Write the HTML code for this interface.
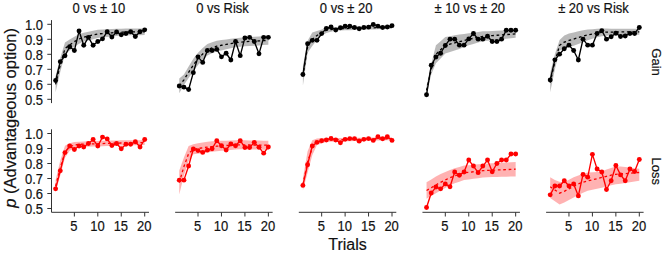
<!DOCTYPE html><html><head><meta charset="utf-8"><style>html,body{margin:0;padding:0;background:#fff;}
svg{display:block;}
text{font-family:"Liberation Sans",sans-serif;fill:#111;stroke:#111;stroke-width:0.18px;}
.t{font-size:13px;}
.ti{font-size:13px;}
.big{font-size:16px;}
.side{font-size:13px;}
</style></head><body><svg width="665" height="254" viewBox="0 0 665 254">
<rect width="665" height="254" fill="#fff"/>
<polygon points="55.60,76.35 60.29,57.75 64.98,42.60 69.67,39.40 74.36,36.64 79.05,34.31 83.74,32.66 88.43,31.67 93.12,30.69 97.81,29.70 102.50,29.49 107.19,29.28 111.88,29.07 116.57,28.86 121.26,28.65 125.95,28.62 130.64,28.59 135.33,28.56 140.02,28.53 144.71,28.50 144.71,35.10 140.02,35.19 135.33,35.28 130.64,35.37 125.95,35.46 121.26,35.55 116.57,36.06 111.88,36.57 107.19,37.08 102.50,37.59 97.81,38.10 93.12,39.26 88.43,40.41 83.74,41.57 79.05,43.69 74.36,46.76 69.67,50.40 64.98,54.60 60.29,71.85 55.60,92.25" fill="rgba(0,0,0,0.27)" stroke="none"/>
<polyline points="55.60,84.30 60.29,64.80 64.98,48.60 69.67,44.90 74.36,41.70 79.05,39.00 83.74,37.11 88.43,36.04 93.12,34.97 97.81,33.90 102.50,33.54 107.19,33.18 111.88,32.82 116.57,32.46 121.26,32.10 125.95,32.04 130.64,31.98 135.33,31.92 140.02,31.86 144.71,31.80" fill="none" stroke="#000" stroke-width="1.3" stroke-dasharray="2.7,2.7"/>
<polyline points="55.60,80.55 60.29,61.65 64.98,55.80 69.67,46.80 74.36,50.55 79.05,31.05 83.74,45.30 88.43,37.35 93.12,45.30 97.81,41.55 102.50,38.85 107.19,31.80 111.88,37.05 116.57,32.02 121.26,34.80 125.95,33.52 130.64,31.80 135.33,36.52 140.02,31.80 144.71,29.85" fill="none" stroke="#000" stroke-width="1.35" stroke-linejoin="round"/>
<circle cx="55.60" cy="80.55" r="2.45" fill="#000"/>
<circle cx="60.29" cy="61.65" r="2.45" fill="#000"/>
<circle cx="64.98" cy="55.80" r="2.45" fill="#000"/>
<circle cx="69.67" cy="46.80" r="2.45" fill="#000"/>
<circle cx="74.36" cy="50.55" r="2.45" fill="#000"/>
<circle cx="79.05" cy="31.05" r="2.45" fill="#000"/>
<circle cx="83.74" cy="45.30" r="2.45" fill="#000"/>
<circle cx="88.43" cy="37.35" r="2.45" fill="#000"/>
<circle cx="93.12" cy="45.30" r="2.45" fill="#000"/>
<circle cx="97.81" cy="41.55" r="2.45" fill="#000"/>
<circle cx="102.50" cy="38.85" r="2.45" fill="#000"/>
<circle cx="107.19" cy="31.80" r="2.45" fill="#000"/>
<circle cx="111.88" cy="37.05" r="2.45" fill="#000"/>
<circle cx="116.57" cy="32.02" r="2.45" fill="#000"/>
<circle cx="121.26" cy="34.80" r="2.45" fill="#000"/>
<circle cx="125.95" cy="33.52" r="2.45" fill="#000"/>
<circle cx="130.64" cy="31.80" r="2.45" fill="#000"/>
<circle cx="135.33" cy="36.52" r="2.45" fill="#000"/>
<circle cx="140.02" cy="31.80" r="2.45" fill="#000"/>
<circle cx="144.71" cy="29.85" r="2.45" fill="#000"/>
<polygon points="179.25,78.60 183.94,74.55 188.63,66.53 193.32,58.75 198.01,52.64 202.70,48.02 207.39,44.00 212.08,42.19 216.77,40.82 221.46,40.11 226.15,39.47 230.84,38.86 235.53,38.25 240.22,37.72 244.91,37.20 249.60,36.93 254.29,36.66 258.98,36.39 263.67,36.12 268.36,35.85 268.36,44.85 263.67,45.12 258.98,45.39 254.29,45.66 249.60,45.93 244.91,46.20 240.22,46.72 235.53,47.25 230.84,48.31 226.15,49.36 221.46,50.42 216.77,51.48 212.08,53.29 207.39,55.60 202.70,60.08 198.01,64.96 193.32,71.35 188.63,78.08 183.94,85.05 179.25,93.30" fill="rgba(0,0,0,0.27)" stroke="none"/>
<polyline points="179.25,85.95 183.94,79.80 188.63,72.30 193.32,65.05 198.01,58.80 202.70,54.05 207.39,49.80 212.08,47.74 216.77,46.15 221.46,45.26 226.15,44.42 230.84,43.58 235.53,42.75 240.22,42.22 244.91,41.70 249.60,41.43 254.29,41.16 258.98,40.89 263.67,40.62 268.36,40.35" fill="none" stroke="#000" stroke-width="1.3" stroke-dasharray="2.7,2.7"/>
<polyline points="179.25,85.95 183.94,87.15 188.63,89.55 193.32,72.67 198.01,56.85 202.70,62.40 207.39,50.55 212.08,50.55 216.77,49.35 221.46,56.85 226.15,53.25 230.84,60.00 235.53,41.55 240.22,55.65 244.91,37.95 249.60,37.35 254.29,41.55 258.98,53.85 263.67,37.35 268.36,37.35" fill="none" stroke="#000" stroke-width="1.35" stroke-linejoin="round"/>
<circle cx="179.25" cy="85.95" r="2.45" fill="#000"/>
<circle cx="183.94" cy="87.15" r="2.45" fill="#000"/>
<circle cx="188.63" cy="89.55" r="2.45" fill="#000"/>
<circle cx="193.32" cy="72.67" r="2.45" fill="#000"/>
<circle cx="198.01" cy="56.85" r="2.45" fill="#000"/>
<circle cx="202.70" cy="62.40" r="2.45" fill="#000"/>
<circle cx="207.39" cy="50.55" r="2.45" fill="#000"/>
<circle cx="212.08" cy="50.55" r="2.45" fill="#000"/>
<circle cx="216.77" cy="49.35" r="2.45" fill="#000"/>
<circle cx="221.46" cy="56.85" r="2.45" fill="#000"/>
<circle cx="226.15" cy="53.25" r="2.45" fill="#000"/>
<circle cx="230.84" cy="60.00" r="2.45" fill="#000"/>
<circle cx="235.53" cy="41.55" r="2.45" fill="#000"/>
<circle cx="240.22" cy="55.65" r="2.45" fill="#000"/>
<circle cx="244.91" cy="37.95" r="2.45" fill="#000"/>
<circle cx="249.60" cy="37.35" r="2.45" fill="#000"/>
<circle cx="254.29" cy="41.55" r="2.45" fill="#000"/>
<circle cx="258.98" cy="53.85" r="2.45" fill="#000"/>
<circle cx="263.67" cy="37.35" r="2.45" fill="#000"/>
<circle cx="268.36" cy="37.35" r="2.45" fill="#000"/>
<polygon points="302.90,66.30 307.59,40.80 312.28,32.55 316.97,31.05 321.66,29.55 326.35,27.70 331.04,27.35 335.73,27.00 340.42,26.90 345.11,26.80 349.80,26.70 354.49,26.60 359.18,26.50 363.87,26.40 368.56,26.30 373.25,26.20 377.94,26.10 382.63,26.00 387.32,25.90 392.01,25.80 392.01,28.80 387.32,28.95 382.63,29.10 377.94,29.25 373.25,29.40 368.56,29.55 363.87,29.70 359.18,29.85 354.49,30.00 349.80,30.15 345.11,30.30 340.42,30.45 335.73,30.60 331.04,31.75 326.35,32.90 321.66,35.55 316.97,40.05 312.28,46.05 307.59,52.80 302.90,85.80" fill="rgba(0,0,0,0.27)" stroke="none"/>
<polyline points="302.90,76.05 307.59,46.80 312.28,39.30 316.97,35.55 321.66,32.55 326.35,30.30 331.04,29.55 335.73,28.80 340.42,28.68 345.11,28.55 349.80,28.43 354.49,28.30 359.18,28.18 363.87,28.05 368.56,27.93 373.25,27.80 377.94,27.67 382.63,27.55 387.32,27.43 392.01,27.30" fill="none" stroke="#000" stroke-width="1.3" stroke-dasharray="2.7,2.7"/>
<polyline points="302.90,74.55 307.59,43.80 312.28,40.35 316.97,40.35 321.66,33.60 326.35,28.35 331.04,27.00 335.73,30.00 340.42,27.75 345.11,26.25 349.80,26.25 354.49,27.45 359.18,28.80 363.87,27.45 368.56,27.15 373.25,24.45 377.94,26.10 382.63,27.45 387.32,27.00 392.01,25.65" fill="none" stroke="#000" stroke-width="1.35" stroke-linejoin="round"/>
<circle cx="302.90" cy="74.55" r="2.45" fill="#000"/>
<circle cx="307.59" cy="43.80" r="2.45" fill="#000"/>
<circle cx="312.28" cy="40.35" r="2.45" fill="#000"/>
<circle cx="316.97" cy="40.35" r="2.45" fill="#000"/>
<circle cx="321.66" cy="33.60" r="2.45" fill="#000"/>
<circle cx="326.35" cy="28.35" r="2.45" fill="#000"/>
<circle cx="331.04" cy="27.00" r="2.45" fill="#000"/>
<circle cx="335.73" cy="30.00" r="2.45" fill="#000"/>
<circle cx="340.42" cy="27.75" r="2.45" fill="#000"/>
<circle cx="345.11" cy="26.25" r="2.45" fill="#000"/>
<circle cx="349.80" cy="26.25" r="2.45" fill="#000"/>
<circle cx="354.49" cy="27.45" r="2.45" fill="#000"/>
<circle cx="359.18" cy="28.80" r="2.45" fill="#000"/>
<circle cx="363.87" cy="27.45" r="2.45" fill="#000"/>
<circle cx="368.56" cy="27.15" r="2.45" fill="#000"/>
<circle cx="373.25" cy="24.45" r="2.45" fill="#000"/>
<circle cx="377.94" cy="26.10" r="2.45" fill="#000"/>
<circle cx="382.63" cy="27.45" r="2.45" fill="#000"/>
<circle cx="387.32" cy="27.00" r="2.45" fill="#000"/>
<circle cx="392.01" cy="25.65" r="2.45" fill="#000"/>
<polygon points="426.55,85.80 431.24,64.05 435.93,45.30 440.62,41.17 445.31,37.05 450.00,36.15 454.69,35.25 459.38,34.50 464.07,33.90 468.76,33.30 473.45,32.65 478.14,32.00 482.83,31.35 487.52,31.16 492.21,30.96 496.90,30.77 501.59,30.58 506.28,30.39 510.97,30.19 515.66,30.00 515.66,37.80 510.97,38.29 506.28,38.79 501.59,39.28 496.90,39.77 492.21,40.26 487.52,40.76 482.83,41.25 478.14,42.60 473.45,43.95 468.76,45.30 464.07,47.10 459.38,48.90 454.69,50.55 450.00,52.05 445.31,53.55 440.62,58.42 435.93,63.30 431.24,74.55 426.55,94.80" fill="rgba(0,0,0,0.27)" stroke="none"/>
<polyline points="426.55,90.30 431.24,69.30 435.93,54.30 440.62,49.80 445.31,45.30 450.00,44.10 454.69,42.90 459.38,41.70 464.07,40.50 468.76,39.30 473.45,38.30 478.14,37.30 482.83,36.30 487.52,35.96 492.21,35.61 496.90,35.27 501.59,34.93 506.28,34.59 510.97,34.24 515.66,33.90" fill="none" stroke="#000" stroke-width="1.3" stroke-dasharray="2.7,2.7"/>
<polyline points="426.55,94.80 431.24,65.25 435.93,57.00 440.62,53.25 445.31,45.45 450.00,39.15 454.69,39.15 459.38,45.15 464.07,45.15 468.76,38.92 473.45,33.45 478.14,39.15 482.83,39.15 487.52,36.30 492.21,41.55 496.90,41.55 501.59,39.15 506.28,30.30 510.97,30.30 515.66,30.30" fill="none" stroke="#000" stroke-width="1.35" stroke-linejoin="round"/>
<circle cx="426.55" cy="94.80" r="2.45" fill="#000"/>
<circle cx="431.24" cy="65.25" r="2.45" fill="#000"/>
<circle cx="435.93" cy="57.00" r="2.45" fill="#000"/>
<circle cx="440.62" cy="53.25" r="2.45" fill="#000"/>
<circle cx="445.31" cy="45.45" r="2.45" fill="#000"/>
<circle cx="450.00" cy="39.15" r="2.45" fill="#000"/>
<circle cx="454.69" cy="39.15" r="2.45" fill="#000"/>
<circle cx="459.38" cy="45.15" r="2.45" fill="#000"/>
<circle cx="464.07" cy="45.15" r="2.45" fill="#000"/>
<circle cx="468.76" cy="38.92" r="2.45" fill="#000"/>
<circle cx="473.45" cy="33.45" r="2.45" fill="#000"/>
<circle cx="478.14" cy="39.15" r="2.45" fill="#000"/>
<circle cx="482.83" cy="39.15" r="2.45" fill="#000"/>
<circle cx="487.52" cy="36.30" r="2.45" fill="#000"/>
<circle cx="492.21" cy="41.55" r="2.45" fill="#000"/>
<circle cx="496.90" cy="41.55" r="2.45" fill="#000"/>
<circle cx="501.59" cy="39.15" r="2.45" fill="#000"/>
<circle cx="506.28" cy="30.30" r="2.45" fill="#000"/>
<circle cx="510.97" cy="30.30" r="2.45" fill="#000"/>
<circle cx="515.66" cy="30.30" r="2.45" fill="#000"/>
<polygon points="550.20,72.75 554.89,54.30 559.58,40.05 564.27,35.42 568.96,33.57 573.65,32.40 578.34,31.20 583.03,30.23 587.72,29.56 592.41,29.19 597.10,28.83 601.79,28.62 606.48,28.57 611.17,28.70 615.86,28.87 620.55,28.86 625.24,28.84 629.93,28.83 634.62,28.81 639.31,28.80 639.31,34.80 634.62,34.87 629.93,34.95 625.24,35.02 620.55,35.10 615.86,35.17 611.17,35.43 606.48,35.73 601.79,36.21 597.10,37.23 592.41,38.79 587.72,40.36 583.03,42.23 578.34,44.03 573.65,45.68 568.96,47.31 564.27,48.93 559.58,50.55 554.89,69.30 550.20,92.25" fill="rgba(0,0,0,0.27)" stroke="none"/>
<polyline points="550.20,82.50 554.89,61.80 559.58,45.30 564.27,42.17 568.96,40.44 573.65,39.04 578.34,37.61 583.03,36.23 587.72,34.96 592.41,33.99 597.10,33.03 601.79,32.42 606.48,32.15 611.17,32.06 615.86,32.02 620.55,31.98 625.24,31.93 629.93,31.89 634.62,31.84 639.31,31.80" fill="none" stroke="#000" stroke-width="1.3" stroke-dasharray="2.7,2.7"/>
<polyline points="550.20,79.95 554.89,59.85 559.58,54.15 564.27,48.75 568.96,45.15 573.65,50.55 578.34,60.00 583.03,39.15 587.72,45.15 592.41,45.15 597.10,33.45 601.79,30.60 606.48,39.15 611.17,36.75 615.86,33.30 620.55,36.45 625.24,36.00 629.93,33.45 634.62,33.45 639.31,27.45" fill="none" stroke="#000" stroke-width="1.35" stroke-linejoin="round"/>
<circle cx="550.20" cy="79.95" r="2.45" fill="#000"/>
<circle cx="554.89" cy="59.85" r="2.45" fill="#000"/>
<circle cx="559.58" cy="54.15" r="2.45" fill="#000"/>
<circle cx="564.27" cy="48.75" r="2.45" fill="#000"/>
<circle cx="568.96" cy="45.15" r="2.45" fill="#000"/>
<circle cx="573.65" cy="50.55" r="2.45" fill="#000"/>
<circle cx="578.34" cy="60.00" r="2.45" fill="#000"/>
<circle cx="583.03" cy="39.15" r="2.45" fill="#000"/>
<circle cx="587.72" cy="45.15" r="2.45" fill="#000"/>
<circle cx="592.41" cy="45.15" r="2.45" fill="#000"/>
<circle cx="597.10" cy="33.45" r="2.45" fill="#000"/>
<circle cx="601.79" cy="30.60" r="2.45" fill="#000"/>
<circle cx="606.48" cy="39.15" r="2.45" fill="#000"/>
<circle cx="611.17" cy="36.75" r="2.45" fill="#000"/>
<circle cx="615.86" cy="33.30" r="2.45" fill="#000"/>
<circle cx="620.55" cy="36.45" r="2.45" fill="#000"/>
<circle cx="625.24" cy="36.00" r="2.45" fill="#000"/>
<circle cx="629.93" cy="33.45" r="2.45" fill="#000"/>
<circle cx="634.62" cy="33.45" r="2.45" fill="#000"/>
<circle cx="639.31" cy="27.45" r="2.45" fill="#000"/>
<polygon points="55.60,180.00 60.29,160.50 64.98,145.80 69.67,143.25 74.36,142.06 79.05,141.63 83.74,141.47 88.43,141.31 93.12,141.15 97.81,140.99 102.50,140.83 107.19,140.67 111.88,140.51 116.57,140.39 121.26,140.34 125.95,140.29 130.64,140.24 135.33,140.20 140.02,140.15 144.71,140.10 144.71,144.90 140.02,145.04 135.33,145.19 130.64,145.33 125.95,145.47 121.26,145.61 116.57,145.76 111.88,145.91 107.19,146.07 102.50,146.23 97.81,146.39 93.12,146.55 88.43,146.71 83.74,146.87 79.05,147.03 74.36,147.89 69.67,150.75 64.98,157.80 60.29,175.50 55.60,192.00" fill="rgba(255,0,0,0.3)" stroke="none"/>
<polyline points="55.60,186.00 60.29,168.00 64.98,151.80 69.67,147.00 74.36,144.98 79.05,144.33 83.74,144.17 88.43,144.01 93.12,143.85 97.81,143.69 102.50,143.53 107.19,143.37 111.88,143.21 116.57,143.07 121.26,142.98 125.95,142.88 130.64,142.79 135.33,142.69 140.02,142.60 144.71,142.50" fill="none" stroke="#ff0000" stroke-width="1.3" stroke-dasharray="2.7,2.7"/>
<polyline points="55.60,188.85 60.29,170.85 64.98,152.62 69.67,145.95 74.36,149.55 79.05,145.95 83.74,147.00 88.43,143.55 93.12,139.50 97.81,145.95 102.50,137.10 107.19,138.90 111.88,145.57 116.57,143.55 121.26,148.80 125.95,144.30 130.64,144.30 135.33,141.75 140.02,147.00 144.71,139.50" fill="none" stroke="#ff0000" stroke-width="1.35" stroke-linejoin="round"/>
<circle cx="55.60" cy="188.85" r="2.45" fill="#ff0000"/>
<circle cx="60.29" cy="170.85" r="2.45" fill="#ff0000"/>
<circle cx="64.98" cy="152.62" r="2.45" fill="#ff0000"/>
<circle cx="69.67" cy="145.95" r="2.45" fill="#ff0000"/>
<circle cx="74.36" cy="149.55" r="2.45" fill="#ff0000"/>
<circle cx="79.05" cy="145.95" r="2.45" fill="#ff0000"/>
<circle cx="83.74" cy="147.00" r="2.45" fill="#ff0000"/>
<circle cx="88.43" cy="143.55" r="2.45" fill="#ff0000"/>
<circle cx="93.12" cy="139.50" r="2.45" fill="#ff0000"/>
<circle cx="97.81" cy="145.95" r="2.45" fill="#ff0000"/>
<circle cx="102.50" cy="137.10" r="2.45" fill="#ff0000"/>
<circle cx="107.19" cy="138.90" r="2.45" fill="#ff0000"/>
<circle cx="111.88" cy="145.57" r="2.45" fill="#ff0000"/>
<circle cx="116.57" cy="143.55" r="2.45" fill="#ff0000"/>
<circle cx="121.26" cy="148.80" r="2.45" fill="#ff0000"/>
<circle cx="125.95" cy="144.30" r="2.45" fill="#ff0000"/>
<circle cx="130.64" cy="144.30" r="2.45" fill="#ff0000"/>
<circle cx="135.33" cy="141.75" r="2.45" fill="#ff0000"/>
<circle cx="140.02" cy="147.00" r="2.45" fill="#ff0000"/>
<circle cx="144.71" cy="139.50" r="2.45" fill="#ff0000"/>
<polygon points="179.25,170.55 183.94,157.50 188.63,146.10 193.32,144.15 198.01,143.31 202.70,142.51 207.39,141.70 212.08,141.21 216.77,141.03 221.46,140.85 226.15,140.67 230.84,140.49 235.53,140.30 240.22,140.30 244.91,140.36 249.60,140.43 254.29,140.50 258.98,140.57 263.67,140.63 268.36,140.70 268.36,149.70 263.67,149.63 258.98,149.57 254.29,149.50 249.60,149.43 244.91,149.36 240.22,149.30 235.53,149.40 230.84,149.89 226.15,150.38 221.46,150.87 216.77,151.36 212.08,151.85 207.39,152.42 202.70,153.05 198.01,153.69 193.32,154.35 188.63,161.10 183.94,175.50 179.25,194.55" fill="rgba(255,0,0,0.3)" stroke="none"/>
<polyline points="179.25,182.55 183.94,166.50 188.63,153.60 193.32,149.25 198.01,148.50 202.70,147.78 207.39,147.06 212.08,146.53 216.77,146.20 221.46,145.86 226.15,145.52 230.84,145.19 235.53,144.85 240.22,144.80 244.91,144.86 249.60,144.93 254.29,145.00 258.98,145.07 263.67,145.13 268.36,145.20" fill="none" stroke="#ff0000" stroke-width="1.3" stroke-dasharray="2.7,2.7"/>
<polyline points="179.25,180.15 183.94,180.15 188.63,166.05 193.32,149.02 198.01,150.60 202.70,152.40 207.39,150.15 212.08,148.72 216.77,140.70 221.46,145.80 226.15,150.00 230.84,144.00 235.53,145.80 240.22,140.70 244.91,147.45 249.60,147.45 254.29,142.35 258.98,147.30 263.67,153.15 268.36,147.00" fill="none" stroke="#ff0000" stroke-width="1.35" stroke-linejoin="round"/>
<circle cx="179.25" cy="180.15" r="2.45" fill="#ff0000"/>
<circle cx="183.94" cy="180.15" r="2.45" fill="#ff0000"/>
<circle cx="188.63" cy="166.05" r="2.45" fill="#ff0000"/>
<circle cx="193.32" cy="149.02" r="2.45" fill="#ff0000"/>
<circle cx="198.01" cy="150.60" r="2.45" fill="#ff0000"/>
<circle cx="202.70" cy="152.40" r="2.45" fill="#ff0000"/>
<circle cx="207.39" cy="150.15" r="2.45" fill="#ff0000"/>
<circle cx="212.08" cy="148.72" r="2.45" fill="#ff0000"/>
<circle cx="216.77" cy="140.70" r="2.45" fill="#ff0000"/>
<circle cx="221.46" cy="145.80" r="2.45" fill="#ff0000"/>
<circle cx="226.15" cy="150.00" r="2.45" fill="#ff0000"/>
<circle cx="230.84" cy="144.00" r="2.45" fill="#ff0000"/>
<circle cx="235.53" cy="145.80" r="2.45" fill="#ff0000"/>
<circle cx="240.22" cy="140.70" r="2.45" fill="#ff0000"/>
<circle cx="244.91" cy="147.45" r="2.45" fill="#ff0000"/>
<circle cx="249.60" cy="147.45" r="2.45" fill="#ff0000"/>
<circle cx="254.29" cy="142.35" r="2.45" fill="#ff0000"/>
<circle cx="258.98" cy="147.30" r="2.45" fill="#ff0000"/>
<circle cx="263.67" cy="153.15" r="2.45" fill="#ff0000"/>
<circle cx="268.36" cy="147.00" r="2.45" fill="#ff0000"/>
<polygon points="302.90,178.50 307.59,151.20 312.28,140.25 316.97,138.45 321.66,138.30 326.35,138.15 331.04,138.09 335.73,138.02 340.42,137.96 345.11,137.89 349.80,137.83 354.49,137.76 359.18,137.70 363.87,137.64 368.56,137.57 373.25,137.51 377.94,137.44 382.63,137.38 387.32,137.31 392.01,137.25 392.01,140.25 387.32,140.36 382.63,140.46 377.94,140.57 373.25,140.68 368.56,140.79 363.87,140.89 359.18,141.00 354.49,141.11 349.80,141.21 345.11,141.32 340.42,141.43 335.73,141.54 331.04,141.64 326.35,141.75 321.66,143.40 316.97,145.05 312.28,155.25 307.59,172.80 302.90,190.50" fill="rgba(255,0,0,0.3)" stroke="none"/>
<polyline points="302.90,184.50 307.59,162.00 312.28,147.75 316.97,141.75 321.66,140.85 326.35,139.95 331.04,139.86 335.73,139.78 340.42,139.69 345.11,139.61 349.80,139.52 354.49,139.44 359.18,139.35 363.87,139.26 368.56,139.18 373.25,139.09 377.94,139.01 382.63,138.92 387.32,138.84 392.01,138.75" fill="none" stroke="#ff0000" stroke-width="1.3" stroke-dasharray="2.7,2.7"/>
<polyline points="302.90,185.40 307.59,164.70 312.28,145.95 316.97,142.35 321.66,140.70 326.35,139.95 331.04,138.45 335.73,139.95 340.42,142.80 345.11,139.35 349.80,138.60 354.49,138.60 359.18,141.15 363.87,139.35 368.56,138.60 373.25,140.40 377.94,136.80 382.63,138.75 387.32,136.80 392.01,140.40" fill="none" stroke="#ff0000" stroke-width="1.35" stroke-linejoin="round"/>
<circle cx="302.90" cy="185.40" r="2.45" fill="#ff0000"/>
<circle cx="307.59" cy="164.70" r="2.45" fill="#ff0000"/>
<circle cx="312.28" cy="145.95" r="2.45" fill="#ff0000"/>
<circle cx="316.97" cy="142.35" r="2.45" fill="#ff0000"/>
<circle cx="321.66" cy="140.70" r="2.45" fill="#ff0000"/>
<circle cx="326.35" cy="139.95" r="2.45" fill="#ff0000"/>
<circle cx="331.04" cy="138.45" r="2.45" fill="#ff0000"/>
<circle cx="335.73" cy="139.95" r="2.45" fill="#ff0000"/>
<circle cx="340.42" cy="142.80" r="2.45" fill="#ff0000"/>
<circle cx="345.11" cy="139.35" r="2.45" fill="#ff0000"/>
<circle cx="349.80" cy="138.60" r="2.45" fill="#ff0000"/>
<circle cx="354.49" cy="138.60" r="2.45" fill="#ff0000"/>
<circle cx="359.18" cy="141.15" r="2.45" fill="#ff0000"/>
<circle cx="363.87" cy="139.35" r="2.45" fill="#ff0000"/>
<circle cx="368.56" cy="138.60" r="2.45" fill="#ff0000"/>
<circle cx="373.25" cy="140.40" r="2.45" fill="#ff0000"/>
<circle cx="377.94" cy="136.80" r="2.45" fill="#ff0000"/>
<circle cx="382.63" cy="138.75" r="2.45" fill="#ff0000"/>
<circle cx="387.32" cy="136.80" r="2.45" fill="#ff0000"/>
<circle cx="392.01" cy="140.40" r="2.45" fill="#ff0000"/>
<polygon points="426.55,182.25 431.24,179.42 435.93,176.58 440.62,173.99 445.31,171.98 450.00,169.96 454.69,168.28 459.38,167.11 464.07,165.57 468.76,165.16 473.45,164.75 478.14,164.33 482.83,163.92 487.52,163.61 492.21,163.34 496.90,163.07 501.59,162.81 506.28,162.54 510.97,162.27 515.66,162.00 515.66,176.40 510.97,176.53 506.28,176.67 501.59,176.80 496.90,176.94 492.21,177.07 487.52,177.21 482.83,177.49 478.14,178.13 473.45,178.76 468.76,179.40 464.07,180.03 459.38,181.79 454.69,183.19 450.00,185.33 445.31,187.97 440.62,190.61 435.93,193.31 431.24,196.03 426.55,198.75" fill="rgba(255,0,0,0.3)" stroke="none"/>
<polyline points="426.55,190.50 431.24,187.72 435.93,184.94 440.62,182.30 445.31,179.97 450.00,177.65 454.69,175.74 459.38,174.45 464.07,172.80 468.76,172.28 473.45,171.75 478.14,171.23 482.83,170.71 487.52,170.41 492.21,170.21 496.90,170.01 501.59,169.80 506.28,169.60 510.97,169.40 515.66,169.20" fill="none" stroke="#ff0000" stroke-width="1.3" stroke-dasharray="2.7,2.7"/>
<polyline points="426.55,207.45 431.24,193.05 435.93,187.05 440.62,188.85 445.31,183.90 450.00,186.75 454.69,172.05 459.38,175.20 464.07,172.05 468.76,160.05 473.45,166.05 478.14,172.65 482.83,166.05 487.52,160.05 492.21,171.75 496.90,163.50 501.59,160.05 506.28,160.05 510.97,154.05 515.66,154.05" fill="none" stroke="#ff0000" stroke-width="1.35" stroke-linejoin="round"/>
<circle cx="426.55" cy="207.45" r="2.45" fill="#ff0000"/>
<circle cx="431.24" cy="193.05" r="2.45" fill="#ff0000"/>
<circle cx="435.93" cy="187.05" r="2.45" fill="#ff0000"/>
<circle cx="440.62" cy="188.85" r="2.45" fill="#ff0000"/>
<circle cx="445.31" cy="183.90" r="2.45" fill="#ff0000"/>
<circle cx="450.00" cy="186.75" r="2.45" fill="#ff0000"/>
<circle cx="454.69" cy="172.05" r="2.45" fill="#ff0000"/>
<circle cx="459.38" cy="175.20" r="2.45" fill="#ff0000"/>
<circle cx="464.07" cy="172.05" r="2.45" fill="#ff0000"/>
<circle cx="468.76" cy="160.05" r="2.45" fill="#ff0000"/>
<circle cx="473.45" cy="166.05" r="2.45" fill="#ff0000"/>
<circle cx="478.14" cy="172.65" r="2.45" fill="#ff0000"/>
<circle cx="482.83" cy="166.05" r="2.45" fill="#ff0000"/>
<circle cx="487.52" cy="160.05" r="2.45" fill="#ff0000"/>
<circle cx="492.21" cy="171.75" r="2.45" fill="#ff0000"/>
<circle cx="496.90" cy="163.50" r="2.45" fill="#ff0000"/>
<circle cx="501.59" cy="160.05" r="2.45" fill="#ff0000"/>
<circle cx="506.28" cy="160.05" r="2.45" fill="#ff0000"/>
<circle cx="510.97" cy="154.05" r="2.45" fill="#ff0000"/>
<circle cx="515.66" cy="154.05" r="2.45" fill="#ff0000"/>
<polygon points="550.20,177.15 554.89,179.95 559.58,181.65 564.27,182.25 568.96,179.69 573.65,177.32 578.34,175.54 583.03,173.75 587.72,172.42 592.41,172.16 597.10,171.91 601.79,171.13 606.48,169.59 611.17,168.05 615.86,166.51 620.55,166.57 625.24,167.02 629.93,167.55 634.62,168.15 639.31,168.75 639.31,180.75 634.62,181.53 629.93,182.31 625.24,183.01 620.55,183.63 615.86,184.25 611.17,185.25 606.48,186.50 601.79,187.75 597.10,188.81 592.41,189.74 587.72,190.67 583.03,192.63 578.34,195.03 573.65,197.42 568.96,199.93 564.27,202.47 559.58,204.43 554.89,201.21 550.20,198.00" fill="rgba(255,0,0,0.3)" stroke="none"/>
<polyline points="550.20,186.75 554.89,189.96 559.58,193.18 564.27,191.29 568.96,188.84 573.65,186.38 578.34,183.93 583.03,182.12 587.72,180.96 592.41,179.80 597.10,178.63 601.79,177.47 606.48,176.31 611.17,175.15 615.86,174.31 620.55,173.94 625.24,173.58 629.93,173.22 634.62,172.86 639.31,172.50" fill="none" stroke="#ff0000" stroke-width="1.3" stroke-dasharray="2.7,2.7"/>
<polyline points="550.20,194.85 554.89,186.00 559.58,186.00 564.27,180.75 568.96,186.00 573.65,183.90 578.34,195.90 583.03,174.45 587.72,177.15 592.41,154.35 597.10,169.05 601.79,172.05 606.48,189.45 611.17,180.75 615.86,165.45 620.55,174.90 625.24,180.75 629.93,169.05 634.62,171.45 639.31,159.45" fill="none" stroke="#ff0000" stroke-width="1.35" stroke-linejoin="round"/>
<circle cx="550.20" cy="194.85" r="2.45" fill="#ff0000"/>
<circle cx="554.89" cy="186.00" r="2.45" fill="#ff0000"/>
<circle cx="559.58" cy="186.00" r="2.45" fill="#ff0000"/>
<circle cx="564.27" cy="180.75" r="2.45" fill="#ff0000"/>
<circle cx="568.96" cy="186.00" r="2.45" fill="#ff0000"/>
<circle cx="573.65" cy="183.90" r="2.45" fill="#ff0000"/>
<circle cx="578.34" cy="195.90" r="2.45" fill="#ff0000"/>
<circle cx="583.03" cy="174.45" r="2.45" fill="#ff0000"/>
<circle cx="587.72" cy="177.15" r="2.45" fill="#ff0000"/>
<circle cx="592.41" cy="154.35" r="2.45" fill="#ff0000"/>
<circle cx="597.10" cy="169.05" r="2.45" fill="#ff0000"/>
<circle cx="601.79" cy="172.05" r="2.45" fill="#ff0000"/>
<circle cx="606.48" cy="189.45" r="2.45" fill="#ff0000"/>
<circle cx="611.17" cy="180.75" r="2.45" fill="#ff0000"/>
<circle cx="615.86" cy="165.45" r="2.45" fill="#ff0000"/>
<circle cx="620.55" cy="174.90" r="2.45" fill="#ff0000"/>
<circle cx="625.24" cy="180.75" r="2.45" fill="#ff0000"/>
<circle cx="629.93" cy="169.05" r="2.45" fill="#ff0000"/>
<circle cx="634.62" cy="171.45" r="2.45" fill="#ff0000"/>
<circle cx="639.31" cy="159.45" r="2.45" fill="#ff0000"/>
<line x1="51.5" y1="20.10" x2="51.5" y2="103.10" stroke="#333" stroke-width="1.0"/>
<line x1="47.3" y1="99.30" x2="51.5" y2="99.30" stroke="#333" stroke-width="1.0"/>
<text transform="translate(43,105.10) scale(1,1.07)" text-anchor="end" class="t">0.5</text>
<line x1="47.3" y1="84.30" x2="51.5" y2="84.30" stroke="#333" stroke-width="1.0"/>
<text transform="translate(43,90.10) scale(1,1.07)" text-anchor="end" class="t">0.6</text>
<line x1="47.3" y1="69.30" x2="51.5" y2="69.30" stroke="#333" stroke-width="1.0"/>
<text transform="translate(43,75.10) scale(1,1.07)" text-anchor="end" class="t">0.7</text>
<line x1="47.3" y1="54.30" x2="51.5" y2="54.30" stroke="#333" stroke-width="1.0"/>
<text transform="translate(43,60.10) scale(1,1.07)" text-anchor="end" class="t">0.8</text>
<line x1="47.3" y1="39.30" x2="51.5" y2="39.30" stroke="#333" stroke-width="1.0"/>
<text transform="translate(43,45.10) scale(1,1.07)" text-anchor="end" class="t">0.9</text>
<line x1="47.3" y1="24.30" x2="51.5" y2="24.30" stroke="#333" stroke-width="1.0"/>
<text transform="translate(43,30.10) scale(1,1.07)" text-anchor="end" class="t">1.0</text>
<line x1="51.5" y1="129.30" x2="51.5" y2="212.30" stroke="#333" stroke-width="1.0"/>
<line x1="47.3" y1="208.50" x2="51.5" y2="208.50" stroke="#333" stroke-width="1.0"/>
<text transform="translate(43,214.30) scale(1,1.07)" text-anchor="end" class="t">0.5</text>
<line x1="47.3" y1="193.50" x2="51.5" y2="193.50" stroke="#333" stroke-width="1.0"/>
<text transform="translate(43,199.30) scale(1,1.07)" text-anchor="end" class="t">0.6</text>
<line x1="47.3" y1="178.50" x2="51.5" y2="178.50" stroke="#333" stroke-width="1.0"/>
<text transform="translate(43,184.30) scale(1,1.07)" text-anchor="end" class="t">0.7</text>
<line x1="47.3" y1="163.50" x2="51.5" y2="163.50" stroke="#333" stroke-width="1.0"/>
<text transform="translate(43,169.30) scale(1,1.07)" text-anchor="end" class="t">0.8</text>
<line x1="47.3" y1="148.50" x2="51.5" y2="148.50" stroke="#333" stroke-width="1.0"/>
<text transform="translate(43,154.30) scale(1,1.07)" text-anchor="end" class="t">0.9</text>
<line x1="47.3" y1="133.50" x2="51.5" y2="133.50" stroke="#333" stroke-width="1.0"/>
<text transform="translate(43,139.30) scale(1,1.07)" text-anchor="end" class="t">1.0</text>
<line x1="51.50" y1="212.3" x2="149.00" y2="212.3" stroke="#333" stroke-width="1.0"/>
<line x1="74.36" y1="212.3" x2="74.36" y2="216.5" stroke="#333" stroke-width="1.0"/>
<text transform="translate(73.96,230.8) scale(1,1.07)" text-anchor="middle" class="t">5</text>
<line x1="97.81" y1="212.3" x2="97.81" y2="216.5" stroke="#333" stroke-width="1.0"/>
<text transform="translate(97.41,230.8) scale(1,1.07)" text-anchor="middle" class="t">10</text>
<line x1="121.26" y1="212.3" x2="121.26" y2="216.5" stroke="#333" stroke-width="1.0"/>
<text transform="translate(120.86,230.8) scale(1,1.07)" text-anchor="middle" class="t">15</text>
<line x1="144.71" y1="212.3" x2="144.71" y2="216.5" stroke="#333" stroke-width="1.0"/>
<text transform="translate(144.31,230.8) scale(1,1.07)" text-anchor="middle" class="t">20</text>
<text transform="translate(98.85,12.9) scale(1,1.07)" text-anchor="middle" class="ti">0 vs ± 10</text>
<line x1="175.15" y1="212.3" x2="272.65" y2="212.3" stroke="#333" stroke-width="1.0"/>
<line x1="198.01" y1="212.3" x2="198.01" y2="216.5" stroke="#333" stroke-width="1.0"/>
<text transform="translate(197.61,230.8) scale(1,1.07)" text-anchor="middle" class="t">5</text>
<line x1="221.46" y1="212.3" x2="221.46" y2="216.5" stroke="#333" stroke-width="1.0"/>
<text transform="translate(221.06,230.8) scale(1,1.07)" text-anchor="middle" class="t">10</text>
<line x1="244.91" y1="212.3" x2="244.91" y2="216.5" stroke="#333" stroke-width="1.0"/>
<text transform="translate(244.51,230.8) scale(1,1.07)" text-anchor="middle" class="t">15</text>
<line x1="268.36" y1="212.3" x2="268.36" y2="216.5" stroke="#333" stroke-width="1.0"/>
<text transform="translate(267.96,230.8) scale(1,1.07)" text-anchor="middle" class="t">20</text>
<text transform="translate(222.50,12.9) scale(1,1.07)" text-anchor="middle" class="ti">0 vs Risk</text>
<line x1="298.80" y1="212.3" x2="396.30" y2="212.3" stroke="#333" stroke-width="1.0"/>
<line x1="321.66" y1="212.3" x2="321.66" y2="216.5" stroke="#333" stroke-width="1.0"/>
<text transform="translate(321.26,230.8) scale(1,1.07)" text-anchor="middle" class="t">5</text>
<line x1="345.11" y1="212.3" x2="345.11" y2="216.5" stroke="#333" stroke-width="1.0"/>
<text transform="translate(344.71,230.8) scale(1,1.07)" text-anchor="middle" class="t">10</text>
<line x1="368.56" y1="212.3" x2="368.56" y2="216.5" stroke="#333" stroke-width="1.0"/>
<text transform="translate(368.16,230.8) scale(1,1.07)" text-anchor="middle" class="t">15</text>
<line x1="392.01" y1="212.3" x2="392.01" y2="216.5" stroke="#333" stroke-width="1.0"/>
<text transform="translate(391.61,230.8) scale(1,1.07)" text-anchor="middle" class="t">20</text>
<text transform="translate(346.15,12.9) scale(1,1.07)" text-anchor="middle" class="ti">0 vs ± 20</text>
<line x1="422.45" y1="212.3" x2="519.95" y2="212.3" stroke="#333" stroke-width="1.0"/>
<line x1="445.31" y1="212.3" x2="445.31" y2="216.5" stroke="#333" stroke-width="1.0"/>
<text transform="translate(444.91,230.8) scale(1,1.07)" text-anchor="middle" class="t">5</text>
<line x1="468.76" y1="212.3" x2="468.76" y2="216.5" stroke="#333" stroke-width="1.0"/>
<text transform="translate(468.36,230.8) scale(1,1.07)" text-anchor="middle" class="t">10</text>
<line x1="492.21" y1="212.3" x2="492.21" y2="216.5" stroke="#333" stroke-width="1.0"/>
<text transform="translate(491.81,230.8) scale(1,1.07)" text-anchor="middle" class="t">15</text>
<line x1="515.66" y1="212.3" x2="515.66" y2="216.5" stroke="#333" stroke-width="1.0"/>
<text transform="translate(515.26,230.8) scale(1,1.07)" text-anchor="middle" class="t">20</text>
<text transform="translate(469.80,12.9) scale(1,1.07)" text-anchor="middle" class="ti">± 10 vs ± 20</text>
<line x1="546.10" y1="212.3" x2="643.60" y2="212.3" stroke="#333" stroke-width="1.0"/>
<line x1="568.96" y1="212.3" x2="568.96" y2="216.5" stroke="#333" stroke-width="1.0"/>
<text transform="translate(568.56,230.8) scale(1,1.07)" text-anchor="middle" class="t">5</text>
<line x1="592.41" y1="212.3" x2="592.41" y2="216.5" stroke="#333" stroke-width="1.0"/>
<text transform="translate(592.01,230.8) scale(1,1.07)" text-anchor="middle" class="t">10</text>
<line x1="615.86" y1="212.3" x2="615.86" y2="216.5" stroke="#333" stroke-width="1.0"/>
<text transform="translate(615.46,230.8) scale(1,1.07)" text-anchor="middle" class="t">15</text>
<line x1="639.31" y1="212.3" x2="639.31" y2="216.5" stroke="#333" stroke-width="1.0"/>
<text transform="translate(638.91,230.8) scale(1,1.07)" text-anchor="middle" class="t">20</text>
<text transform="translate(593.45,12.9) scale(1,1.07)" text-anchor="middle" class="ti">± 20 vs Risk</text>
<text x="347.5" y="249.5" text-anchor="middle" class="big">Trials</text>
<text transform="translate(15.8,117.9) rotate(-90)" text-anchor="middle" class="big" style="font-size:16.5px"><tspan font-style="italic">p</tspan> (Advantageous option)</text>
<text transform="translate(651.5,62.10) rotate(90)" text-anchor="middle" class="side">Gain</text>
<text transform="translate(651.5,171.30) rotate(90)" text-anchor="middle" class="side">Loss</text>
</svg></body></html>
